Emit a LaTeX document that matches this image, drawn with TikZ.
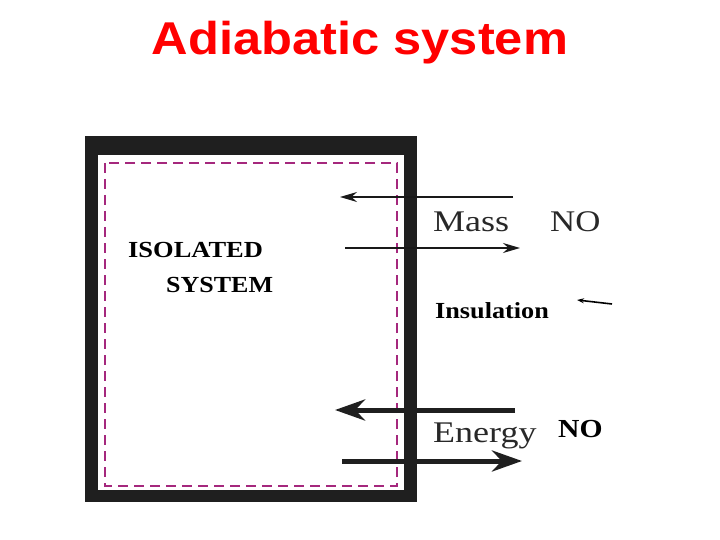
\documentclass[tikz,border=0pt]{standalone}
\usepackage{fontspec}
\setmainfont{Liberation Serif}
\newfontfamily\titlefont{Liberation Sans}
\usetikzlibrary{arrows.meta}
\definecolor{dashmag}{RGB}{165,40,125}
\definecolor{textgray}{RGB}{40,40,40}
\tikzset{
  wall/.style={fill=black!88, draw=none},
  boundary/.style={draw=dashmag, line width=2pt, dash pattern=on 10pt off 6pt},
  massarrow/.style={draw=black!90, line width=1.4pt, -{Stealth[length=17pt,width=10pt]}},
  energyarrow/.style={draw=black!88, line width=5pt, -{Stealth[length=30pt,width=21pt]}},
  labeltext/.style={inner sep=0pt, anchor=base west, text=textgray},
}
\begin{document}
\begin{tikzpicture}[x=1pt,y=-1pt]
\useasboundingbox (0,0) rectangle (720,540);
\fill[white] (0,0) rectangle (720,540);
% title
\node[inner sep=0pt, anchor=base, text=red] (title) at (360,55)
  {\scalebox{1.1}[1]{\titlefont\bfseries\fontsize{46}{50}\selectfont Adiabatic system}};
% walls
\fill[wall] (85,136) rectangle (98,502);
\fill[wall] (404,136) rectangle (417,502);
\fill[wall] (85,490) rectangle (417,502);
\fill[wall] (85,136) rectangle (417,155);
% system boundary
\draw[boundary] (105,163) rectangle (397,486);
% mass arrows
\coordinate (m1s) at (513,197); \coordinate (m1e) at (340,197);
\coordinate (m2s) at (345,248); \coordinate (m2e) at (520,248);
\draw[massarrow] (m1s) -- (m1e);
\draw[massarrow] (m2s) -- (m2e);
% energy arrows
\coordinate (e1s) at (515,410); \coordinate (e1e) at (335,410);
\coordinate (e2s) at (342,461); \coordinate (e2e) at (522,461);
\draw[energyarrow] (e1s) -- (e1e);
\draw[energyarrow] (e2s) -- (e2e);
% insulation pointer
\coordinate (i1s) at (612,304); \coordinate (i1e) at (577,300);
\draw[black, line width=1.6pt, -{Stealth[length=7pt,width=5pt]}] (i1s) -- (i1e);
% labels
\node[labeltext] (mass) at (433,232) {\scalebox{1.2}[1]{\fontsize{30}{32}\selectfont Mass}};
\node[labeltext] (massno) at (550,232) {\scalebox{1.16}[1]{\fontsize{30}{32}\selectfont NO}};
\node[labeltext] (energy) at (433,442) {\scalebox{1.2}[1]{\fontsize{30}{32}\selectfont Energy}};
\node[labeltext, text=black] (energyno) at (558,437) {\scalebox{1.14}[1]{\bfseries\fontsize{26}{28}\selectfont NO}};
\node[labeltext, text=black] (insul) at (435,318) {\scalebox{1.14}[1]{\bfseries\fontsize{23}{25}\selectfont Insulation}};
\node[labeltext, text=black] (iso) at (128,257) {\scalebox{1.15}[1]{\bfseries\fontsize{23}{25}\selectfont ISOLATED}};
\node[labeltext, text=black] (sys) at (166,292) {\scalebox{1.13}[1]{\bfseries\fontsize{23}{25}\selectfont SYSTEM}};
\end{tikzpicture}
\end{document}
